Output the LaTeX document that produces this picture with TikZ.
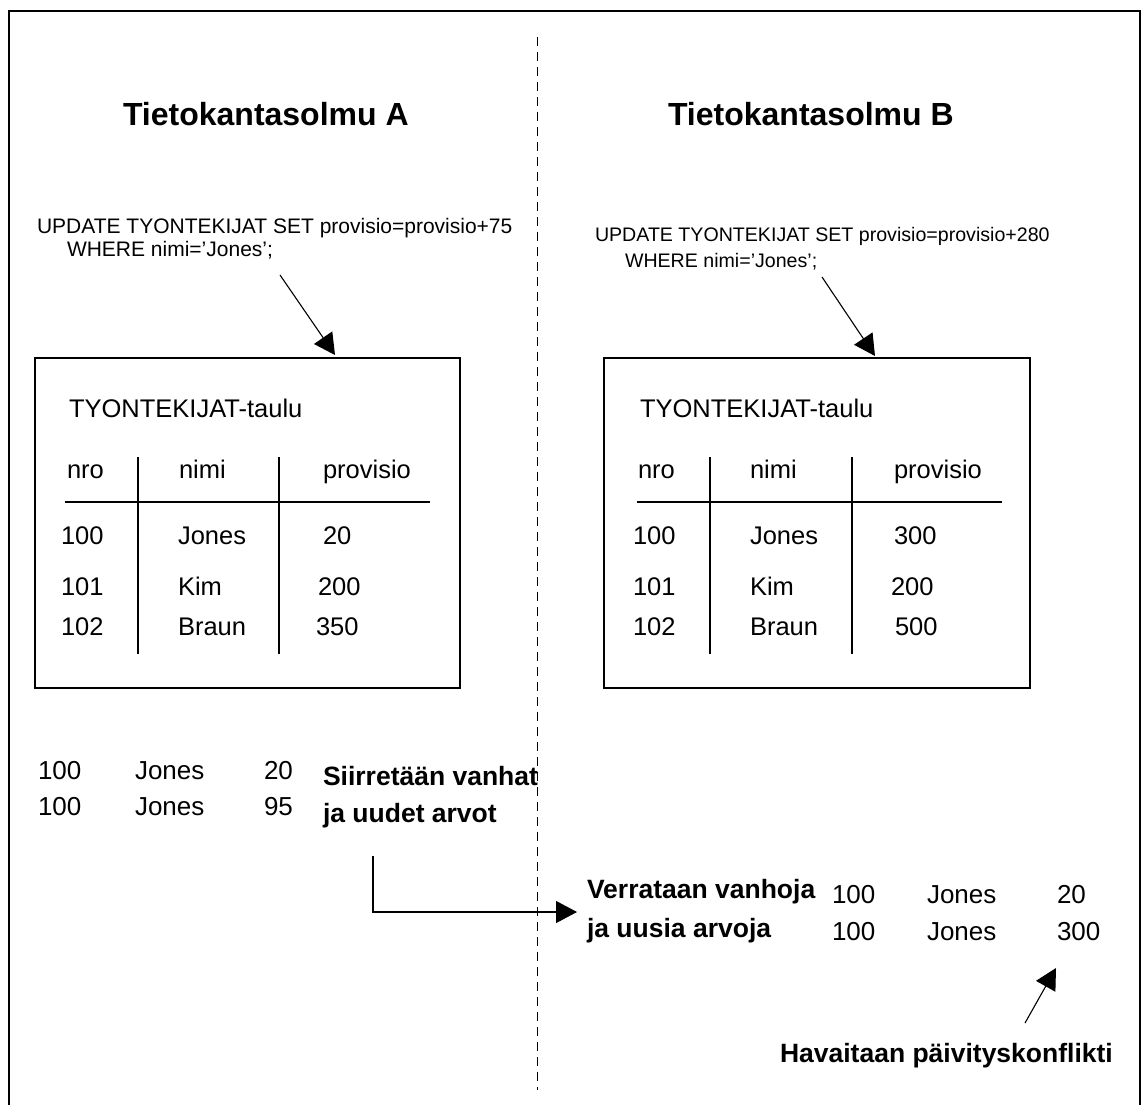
\documentclass[tikz,border=0pt]{standalone}
\usepackage{fontspec}
\setmainfont{Liberation Sans}
\usetikzlibrary{arrows.meta}
\begin{document}
\begin{tikzpicture}[x=1pt,y=-1pt,
  line width=1.2pt,
  txt/.style={anchor=base west, inner sep=0pt, outer sep=0pt},
  titletxt/.style={txt, font=\fontsize{32}{38}\selectfont\bfseries},
  sqlleft/.style={txt, font=\fontsize{21}{25}\selectfont},
  sqlright/.style={txt, font=\fontsize{19.6}{24}\selectfont},
  celltxt/.style={txt, font=\fontsize{25.5}{30}\selectfont},
  rowtxt/.style={txt, font=\fontsize{26}{31}\selectfont},
  notetxt/.style={txt, font=\fontsize{26.5}{31}\selectfont\bfseries},
  tablebox/.style={draw, line width=1.3pt, inner sep=0pt, minimum width=425pt, minimum height=330pt},
  pointer/.style={-{Triangle[length=21pt,width=22pt]}, line width=1.1pt}
]
% page area
\useasboundingbox (0,0) rectangle (1143,1104);

% outer frame (open at the bottom edge)
\draw[line width=2pt] (9,1110) -- (9,11) -- (1140,11) -- (1140,1110);

% node divider
\coordinate (divtop) at (537,37);
\coordinate (divbot) at (537,1090);
\draw[line width=1pt, dash pattern=on 9pt off 6pt] (divtop) -- (divbot);

% headings
\node[titletxt] (headA) at (123,125) {Tietokantasolmu A};
\node[titletxt] (headB) at (668,125) {Tietokantasolmu B};

% update statements
\node[sqlleft] (sqlA1) at (37,233) {UPDATE TYONTEKIJAT SET provisio=provisio+75};
\node[sqlleft] (sqlA2) at (67,256) {WHERE nimi=’Jones’;};
\node[sqlright] (sqlB1) at (595,241) {UPDATE TYONTEKIJAT SET provisio=provisio+280};
\node[sqlright] (sqlB2) at (625,267) {WHERE nimi=’Jones’;};

% tables
\node[tablebox] (boxA) at (247.5,523) {};
\node[tablebox, minimum width=426pt] (boxB) at (817,523) {};

% table A
\node[celltxt] (capA) at (69,417) {TYONTEKIJAT-taulu};
\node[celltxt] (hA1) at (67,478) {nro};
\node[celltxt] (hA2) at (179,478) {nimi};
\node[celltxt] (hA3) at (323,478) {provisio};
\node[celltxt] (a11) at (61,544) {100};
\node[celltxt] (a12) at (178,544) {Jones};
\node[celltxt] (a13) at (323,544) {20};
\node[celltxt] (a21) at (61,595) {101};
\node[celltxt] (a22) at (178,595) {Kim};
\node[celltxt] (a23) at (318,595) {200};
\node[celltxt] (a31) at (61,635) {102};
\node[celltxt] (a32) at (178,635) {Braun};
\node[celltxt] (a33) at (316,635) {350};
\draw (138,457) -- (138,654);
\draw (279,457) -- (279,654);
\draw (65,502) -- (430,502);

% table B
\node[celltxt] (capB) at (640,417) {TYONTEKIJAT-taulu};
\node[celltxt] (hB1) at (638,478) {nro};
\node[celltxt] (hB2) at (750,478) {nimi};
\node[celltxt] (hB3) at (894,478) {provisio};
\node[celltxt] (b11) at (633,544) {100};
\node[celltxt] (b12) at (750,544) {Jones};
\node[celltxt] (b13) at (894,544) {300};
\node[celltxt] (b21) at (633,595) {101};
\node[celltxt] (b22) at (750,595) {Kim};
\node[celltxt] (b23) at (891,595) {200};
\node[celltxt] (b31) at (633,635) {102};
\node[celltxt] (b32) at (750,635) {Braun};
\node[celltxt] (b33) at (895,635) {500};
\draw (710,457) -- (710,654);
\draw (852,457) -- (852,654);
\draw (637,502) -- (1002,502);

% statements applied to the tables
\coordinate (sqlAfoot) at (280,275);
\coordinate (boxAtop) at (335,355);
\coordinate (sqlBfoot) at (822,277);
\coordinate (boxBtop) at (875,356);
\draw[pointer] (sqlAfoot) -- (boxAtop);
\draw[pointer] (sqlBfoot) -- (boxBtop);

% values sent from A
\node[rowtxt] (sA1) at (38,779) {100};
\node[rowtxt] (sA2) at (135,779) {Jones};
\node[rowtxt] (sA3) at (264,779) {20};
\node[rowtxt] (tA1) at (38,815) {100};
\node[rowtxt] (tA2) at (135,815) {Jones};
\node[rowtxt] (tA3) at (264,815) {95};
\node[notetxt] (sendA1) at (323,785) {Siirretään vanhat};
\node[notetxt] (sendA2) at (323,822) {ja uudet arvot};

% comparison at B
\node[notetxt] (cmpB1) at (587,898) {Verrataan vanhoja};
\node[notetxt] (cmpB2) at (587,937) {ja uusia arvoja};
\node[rowtxt] (sB1) at (832,903) {100};
\node[rowtxt] (sB2) at (927,903) {Jones};
\node[rowtxt] (sB3) at (1057,903) {20};
\node[rowtxt] (tB1) at (832,940) {100};
\node[rowtxt] (tB2) at (927,940) {Jones};
\node[rowtxt] (tB3) at (1057,940) {300};
\node[notetxt] (conflict) at (780,1062) {Havaitaan päivityskonflikti};

% transfer and conflict arrows
\coordinate (sendfoot) at (373,856);
\coordinate (sendtip) at (577,912);
\draw[pointer] (sendfoot) |- (sendtip);
\coordinate (conffoot) at (1025,1023);
\coordinate (conftip) at (1056,968);
\draw[pointer] (conffoot) -- (conftip);
\end{tikzpicture}
\end{document}
